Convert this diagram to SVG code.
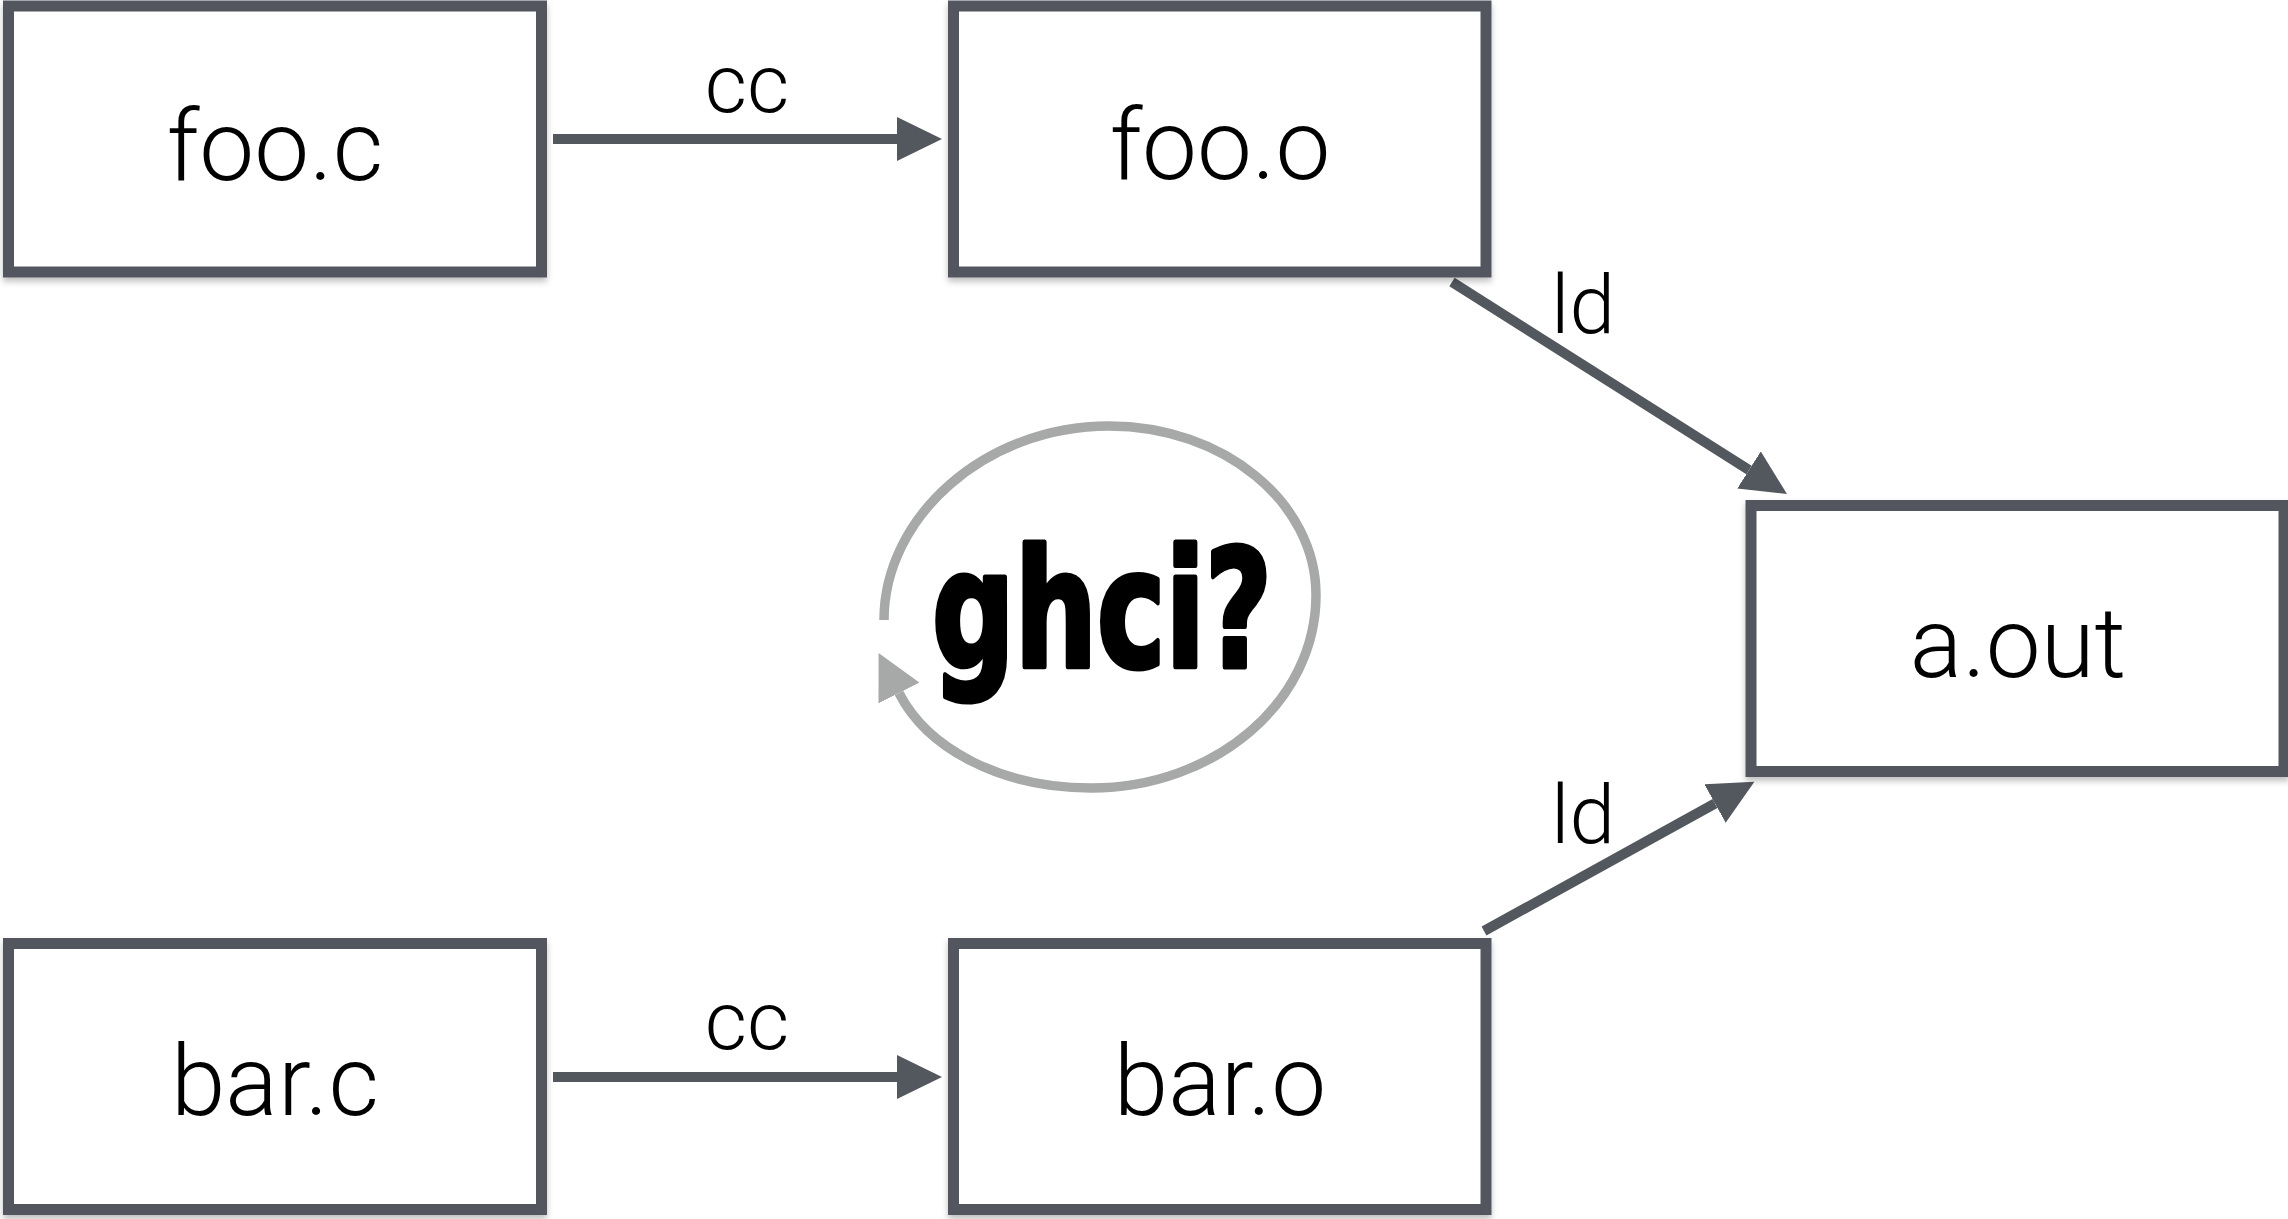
<svg xmlns="http://www.w3.org/2000/svg" width="2288" height="1219" viewBox="0 0 2288 1219">
<style>
.box{fill:#ffffff;stroke:#53575e;stroke-width:11;filter:url(#sh)}
.lbl{font-family:Roboto,"Liberation Sans",sans-serif;font-weight:300;font-size:98px;fill:#000;text-anchor:middle}
.elbl{font-family:Roboto,"Liberation Sans",sans-serif;font-weight:300;font-size:82px;fill:#000;text-anchor:middle}
.edge{fill:none;stroke:#53575e;stroke-width:10}
.loop{fill:none;stroke:#a6a9a7;stroke-width:9.5}
.ghci{font-family:"Liberation Sans Narrow","DejaVu Sans Condensed","Liberation Sans",sans-serif;font-weight:bold;font-stretch:condensed;font-size:164px;fill:#000;stroke:#000;stroke-width:5;stroke-linejoin:round;text-anchor:middle}
</style>
<defs>
<filter id="sh" x="-5%" y="-5%" width="110%" height="115%">
<feDropShadow dx="0" dy="4" stdDeviation="3" flood-color="#000" flood-opacity="0.25"/>
</filter>
<marker id="ah" markerUnits="userSpaceOnUse" markerWidth="46" markerHeight="44" refX="0" refY="22" orient="auto" viewBox="0 0 46 44">
<path d="M0,0 L45,22 L0,44 z" fill="#53575e"/>
</marker>
<marker id="ahl" markerUnits="userSpaceOnUse" markerWidth="46" markerHeight="46" refX="0" refY="23" orient="auto" viewBox="0 0 46 46">
<path d="M0,0 L45,23 L0,46 z" fill="#a6a9a7"/>
</marker>
</defs>
<rect width="2288" height="1219" fill="#ffffff"/>
<g id="connectors">
<path class="edge" d="M553,139 L897,139" marker-end="url(#ah)"/>
<path class="edge" d="M553,1077 L897,1077" marker-end="url(#ah)"/>
<path class="edge" d="M1452,282 L1749,470" marker-end="url(#ah)"/>
<path class="edge" d="M1484,931 L1715,803.5" marker-end="url(#ah)"/>
<text class="elbl" x="747" y="112">cc</text>
<text class="elbl" x="747" y="1049">cc</text>
<text class="elbl" x="1583" y="333">ld</text>
<text class="elbl" x="1583" y="843">ld</text>
</g>
<g id="ghci-loop">
<path class="loop" d="M884,620 C884,517 985,426 1109,426 C1223,426 1316,502 1316,595 C1316,702 1215,788 1091,788 C1000,788 927,748 899,693" marker-end="url(#ahl)"/>
<text class="ghci" x="1102" y="667" textLength="340" lengthAdjust="spacingAndGlyphs">ghci?</text>
</g>
<g id="foo.c">
<rect class="box" x="8.5" y="6" width="533" height="266"/>
<text class="lbl" x="275" y="180">foo.c</text>
</g>
<g id="foo.o">
<rect class="box" x="953.5" y="6" width="532.5" height="266"/>
<text class="lbl" x="1220" y="179">foo.o</text>
</g>
<g id="a.out">
<rect class="box" x="1751" y="505.5" width="533" height="266"/>
<text class="lbl" x="2018" y="677">a.out</text>
</g>
<g id="bar.c">
<rect class="box" x="8.5" y="943.5" width="533" height="266"/>
<text class="lbl" x="275" y="1115">bar.c</text>
</g>
<g id="bar.o">
<rect class="box" x="953.5" y="943.5" width="532.5" height="266"/>
<text class="lbl" x="1220" y="1115">bar.o</text>
</g>
</svg>
